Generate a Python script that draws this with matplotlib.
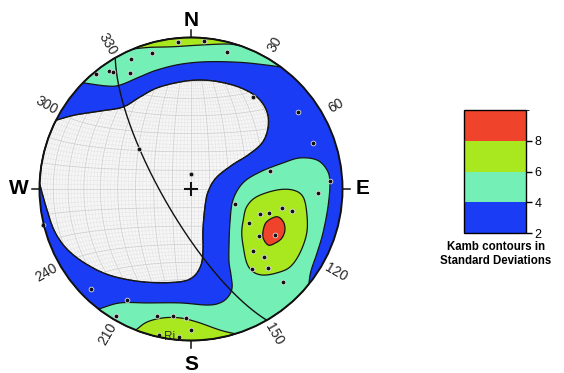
import numpy as np
import matplotlib
matplotlib.use("Agg")
import matplotlib.pyplot as plt
from matplotlib.patches import Polygon, Circle
from matplotlib.collections import LineCollection
from matplotlib.colors import ListedColormap, BoundaryNorm
import matplotlib.colorbar as mcolorbar

plt.rcParams['font.family'] = ['Liberation Sans', 'DejaVu Sans']

# Kamb contour levels (standard deviations) and their fills
levels = [2, 4, 6, 8, 10]
level_colors = ['#1a3cf5', '#74f0b6', '#a9e81f', '#f0432c']
low_color = '#f6f6f6'

# poles, equal-area net coordinates (unit radius)
pole_x = [-0.084, 0.088, -0.259, 0.240, -0.398, -0.627, -0.541, -0.517, -0.403,
          0.411, 0.708, 0.807, 0.917, 0.521, 0.840, 0.000, -0.341,
          0.290, 0.455, 0.515, 0.603, 0.665, 0.385, 0.554, 0.449, 0.407,
          0.482, 0.401, 0.505, 0.609, -0.975, -0.660, -0.421, -0.497,
          -0.226, -0.121, -0.033, -0.002, -0.211, -0.079]
pole_y = [0.968, 0.975, 0.900, 0.906, 0.858, 0.757, 0.779, 0.770, 0.764,
          0.609, 0.510, 0.302, 0.050, 0.116, -0.028, 0.099, 0.263,
          -0.100, -0.165, -0.156, -0.127, -0.143, -0.222, -0.304, -0.312, -0.409,
          -0.451, -0.529, -0.521, -0.612, -0.238, -0.658, -0.731, -0.836,
          -0.836, -0.836, -0.853, -0.931, -0.965, -0.975]
pole_label = "Ri"
pole_label_xy = (-0.139, -0.977)

# plane drawn as a great circle (right-hand rule)
plane_strike = 150
plane_dip = 75

# contour outlines; rim-bound ones start on the rim at az[0] and end at az[1]
low_az = (272, 297)
low_x = [-0.950, -0.898, -0.812, -0.680, -0.521, -0.304, -0.086, 0.013, 0.066,
         0.079, 0.079, 0.092, 0.112, 0.165, 0.271, 0.376, 0.469, 0.508, 0.502,
         0.442, 0.330, 0.191, 0.059, -0.073, -0.224, -0.337, -0.449, -0.594, -0.766]
low_y = [-0.139, -0.284, -0.403, -0.502, -0.574, -0.614, -0.614, -0.581, -0.502,
         -0.403, -0.271, -0.119, -0.020, 0.073, 0.158, 0.224, 0.304, 0.403, 0.508,
         0.601, 0.667, 0.706, 0.719, 0.706, 0.667, 0.607, 0.541, 0.515, 0.488]

north4_az = (-45.5, 36.4)
north4_x = [-0.556, -0.469, -0.337, -0.226, -0.073, 0.104, 0.323, 0.500]
north4_y = [0.680, 0.686, 0.741, 0.785, 0.823, 0.840, 0.836, 0.818]

north6_az = (-22.3, 18.8)
north6_x = [-0.271, -0.119, 0.059, 0.236]
north6_y = [0.935, 0.939, 0.950, 0.957]

south4_az = (217.6, 129)
south4_x = [-0.469, -0.290, -0.073, 0.106, 0.191, 0.244, 0.271, 0.264, 0.251,
            0.251, 0.257, 0.277, 0.343, 0.455, 0.607, 0.719, 0.832, 0.898,
            0.917, 0.904, 0.871, 0.832, 0.792]
south4_y = [-0.752, -0.752, -0.752, -0.766, -0.752, -0.713, -0.653, -0.568, -0.482,
            -0.370, -0.224, -0.073, 0.040, 0.112, 0.172, 0.205, 0.191, 0.125,
            0.040, -0.119, -0.290, -0.422, -0.541]

south6_az = (201.4, 163)
south6_x = [-0.290, -0.185, -0.073, 0.040, 0.191]
south6_y = [-0.878, -0.851, -0.851, -0.878, -0.931]

east6_x = [0.345, 0.368, 0.434, 0.566, 0.673, 0.739, 0.764, 0.764, 0.719, 0.653,
           0.566, 0.475, 0.409, 0.368, 0.345, 0.335]
east6_y = [-0.205, -0.117, -0.051, -0.007, -0.007, -0.051, -0.158, -0.290, -0.422,
           -0.515, -0.554, -0.568, -0.546, -0.488, -0.381, -0.290]

east8_x = [0.477, 0.500, 0.566, 0.609, 0.620, 0.599, 0.554, 0.510, 0.477]
east8_y = [-0.271, -0.216, -0.183, -0.216, -0.271, -0.325, -0.358, -0.370, -0.325]

rim_labels = [30, 60, 120, 150, 210, 240, 300, 330]
cardinals = {'N': (0, 1.115), 'E': (90, 1.135), 'S': (180, 1.16), 'W': (270, 1.135)}


def rim(az, r=1.0):
    a = np.radians(az)
    return r * np.sin(a), r * np.cos(a)


def project(n, e, z):
    # lower hemisphere equal-area (Schmidt), unit radius
    k = 1.0 / np.sqrt(1.0 + z)
    return e * k, n * k


def spline(xs, ys, closed=False, n=14):
    pts = np.column_stack([xs, ys])
    if closed:
        P = np.vstack([pts[-1], pts, pts[0], pts[1]])
    else:
        P = np.vstack([2 * pts[0] - pts[1], pts, 2 * pts[-1] - pts[-2]])
    t = np.linspace(0, 1, n, endpoint=False)[:, None]
    out = []
    for i in range(1, len(P) - 2):
        p0, p1, p2, p3 = P[i - 1], P[i], P[i + 1], P[i + 2]
        out.append(0.5 * (2 * p1 + (p2 - p0) * t
                          + (2 * p0 - 5 * p1 + 4 * p2 - p3) * t ** 2
                          + (3 * p1 - p0 - 3 * p2 + p3) * t ** 3))
    if not closed:
        out.append(pts[-1:])
    return np.vstack(out)


def rim_region(az, xs, ys):
    x0, y0 = rim(az[0])
    x1, y1 = rim(az[1])
    edge = spline([x0] + xs + [x1], [y0] + ys + [y1])
    arc = np.linspace(az[1], az[0], 80)
    return np.vstack([edge, np.column_stack(rim(arc))])


fig = plt.figure(figsize=(5.64, 3.73), dpi=100)
ax = fig.add_axes([0, 0, 1, 1])
ax.set_xlim(-191 / 151.5, (564 - 191) / 151.5)
ax.set_ylim(-(373 - 189) / 151.5, 189 / 151.5)
ax.axis('off')

edge_kw = dict(edgecolor='#151515', linewidth=0.9)

ax.add_patch(Circle((0, 0), 1, facecolor=level_colors[0], edgecolor='none', zorder=1))
low_patch = Polygon(rim_region(low_az, low_x, low_y), closed=True,
                    facecolor=low_color, zorder=2, **edge_kw)
ax.add_patch(low_patch)

# Schmidt net, visible only where density stays under 2 sigma
t = np.linspace(0, np.pi, 181)
minor, major = [], []
for deg in range(2, 180, 2):
    d = np.radians(deg)
    gx, gy = project(np.cos(t), np.sin(t) * np.cos(d), np.sin(t) * np.sin(d))
    sx, sy = project(np.full_like(t, np.cos(d)), np.sin(d) * np.cos(t), np.sin(d) * np.sin(t))
    target = major if deg % 10 == 0 else minor
    target.append(np.column_stack([gx, gy]))
    target.append(np.column_stack([sx, sy]))
for segs, col, lw in [(minor, '#e3e3e3', 0.35), (major, '#cfcfcf', 0.55)]:
    lc = LineCollection(segs, colors=col, linewidths=lw, zorder=3)
    lc.set_clip_path(low_patch)
    ax.add_collection(lc)
# redraw the low-zone outline above the net
ax.add_patch(Polygon(rim_region(low_az, low_x, low_y), closed=True,
                     facecolor='none', zorder=3.5, **edge_kw))

ax.add_patch(Polygon(rim_region(north4_az, north4_x, north4_y), closed=True,
                     facecolor=level_colors[1], zorder=4, **edge_kw))
ax.add_patch(Polygon(rim_region(south4_az, south4_x, south4_y), closed=True,
                     facecolor=level_colors[1], zorder=4, **edge_kw))
ax.add_patch(Polygon(rim_region(north6_az, north6_x, north6_y), closed=True,
                     facecolor=level_colors[2], zorder=5, **edge_kw))
ax.add_patch(Polygon(rim_region(south6_az, south6_x, south6_y), closed=True,
                     facecolor=level_colors[2], zorder=5, **edge_kw))
ax.add_patch(Polygon(spline(east6_x, east6_y, closed=True), closed=True,
                     facecolor=level_colors[2], zorder=5, **edge_kw))
ax.add_patch(Polygon(spline(east8_x, east8_y, closed=True), closed=True,
                     facecolor=level_colors[3], zorder=6, **edge_kw))

# great circle of the plane
s = np.radians(plane_strike)
dd = np.radians(plane_strike + 90)
dp = np.radians(plane_dip)
sv = np.array([np.cos(s), np.sin(s), 0.0])
dv = np.array([np.cos(dp) * np.cos(dd), np.cos(dp) * np.sin(dd), np.sin(dp)])
pts = np.outer(np.cos(t), sv) + np.outer(np.sin(t), dv)
px, py = project(pts[:, 0], pts[:, 1], pts[:, 2])
ax.plot(px, py, color='#111111', lw=1.0, zorder=7)

ax.plot(pole_x, pole_y, 'o', ms=3.4, mfc='#111111', mec='#dddddd', mew=0.6,
        ls='none', zorder=8)
ax.text(*pole_label_xy, pole_label, fontsize=8.5, color='#333333',
        ha='center', va='center', zorder=8)

ax.plot(0, 0, marker='+', ms=10, mew=1.5, color='#111111', zorder=8)
ax.add_patch(Circle((0, 0), 1, facecolor='none', edgecolor='#111111', lw=1.4, zorder=9))

for name, (az, r) in cardinals.items():
    xa, ya = rim(az)
    xb, yb = rim(az, 1.05)
    ax.plot([xa, xb], [ya, yb], color='#111111', lw=1.1, zorder=9)
    xl, yl = rim(az, r)
    ax.text(xl, yl, name, fontsize=15, fontweight='bold', ha='center', va='center')

for az in rim_labels:
    # keep the numbers radial and readable
    rot = ((90 - az) + 180) % 360 - 180
    if rot > 90:
        rot -= 180
    elif rot < -90:
        rot += 180
    xl, yl = rim(az, 1.105)
    ax.text(xl, yl, str(az), fontsize=10, rotation=rot, rotation_mode='anchor',
            ha='center', va='center', color='#222222')

# colour key
cax = fig.add_axes([464 / 564, (373 - 233) / 373, 62 / 564, 123 / 373])
cb = mcolorbar.ColorbarBase(cax, cmap=ListedColormap(level_colors),
                            norm=BoundaryNorm(levels, len(level_colors)),
                            ticks=levels[:-1], orientation='vertical')
cb.outline.set_linewidth(1.0)
cax.tick_params(labelsize=9, length=4, width=1, pad=2)
fig.text(496 / 564, 1 - 254 / 373, "Kamb contours in\nStandard Deviations",
         ha='center', va='center', fontsize=8.3, fontweight='bold', linespacing=1.3)

fig.savefig("out.png", dpi=100)
